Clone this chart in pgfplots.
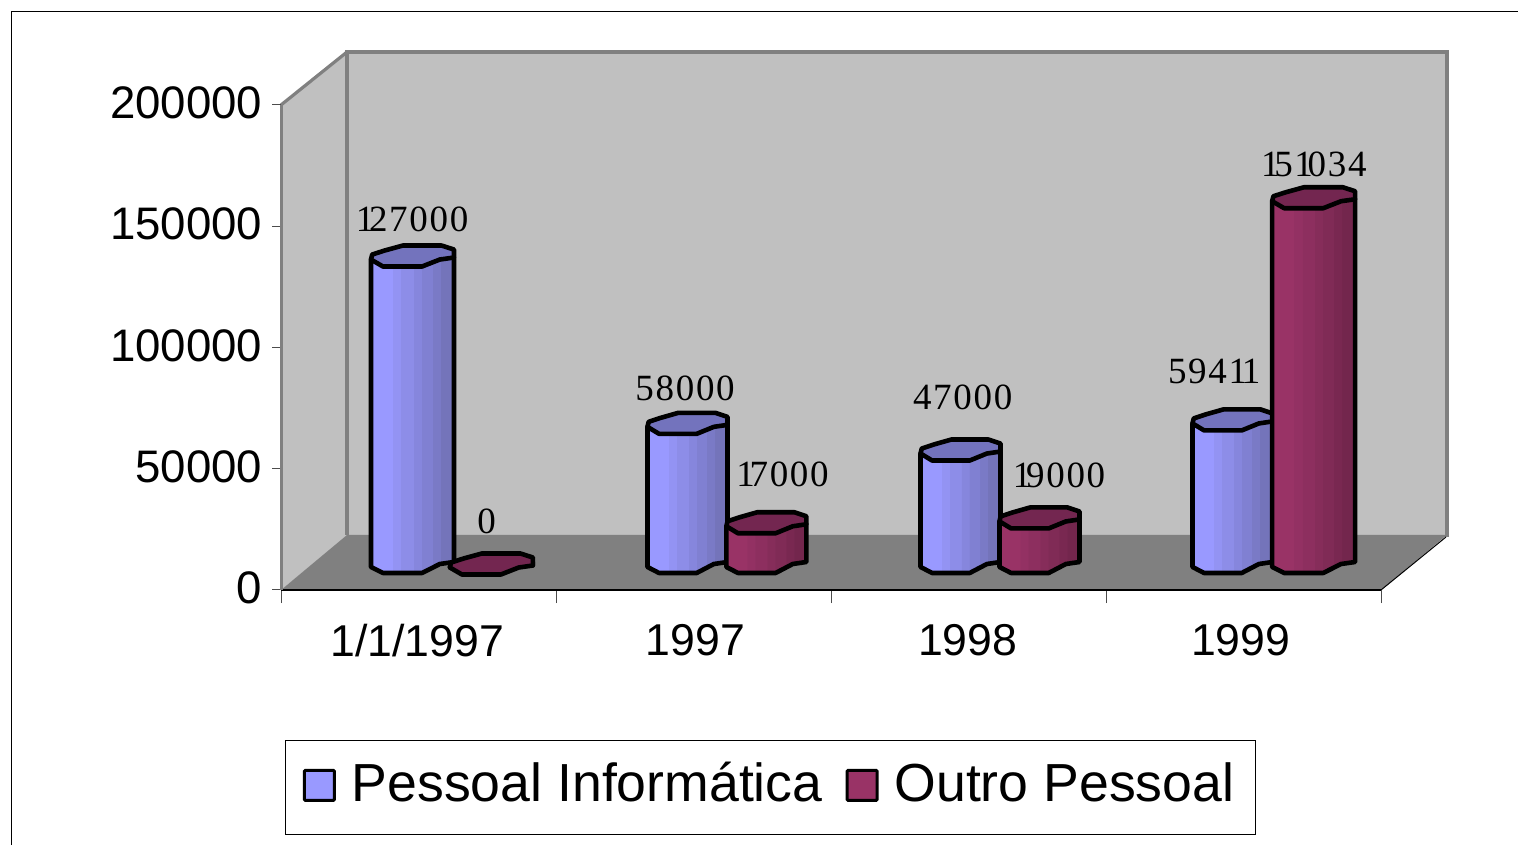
\documentclass[border=0pt]{standalone}
\usepackage{pgfplots}
\usepackage{fontspec}
\setmainfont{Liberation Sans}
\newfontfamily\labelfont{Liberation Serif}
\pgfplotsset{compat=1.18}
\definecolor{wall}{HTML}{C0C0C0}
\definecolor{floorc}{HTML}{808080}
\definecolor{blueC}{HTML}{7373BD}
\definecolor{redC}{HTML}{732650}
\definecolor{blueA}{HTML}{9999FF}\definecolor{blueB}{HTML}{9393F3}\definecolor{blueD}{HTML}{8D8DE8}
\definecolor{blueE}{HTML}{8686DD}\definecolor{blueF}{HTML}{8080D2}\definecolor{blueG}{HTML}{7A7AC6}\definecolor{blueH}{HTML}{7474BA}
\definecolor{redA}{HTML}{993366}\definecolor{redB}{HTML}{933163}\definecolor{redD}{HTML}{8D2F5F}
\definecolor{redE}{HTML}{862D5A}\definecolor{redF}{HTML}{802B56}\definecolor{redG}{HTML}{792851}\definecolor{redH}{HTML}{73264D}
\newcommand\bandshade[8]{%
  \pgfdeclarehorizontalshading{#1}{100bp}{%
    color(0bp)=(#2); color(38bp)=(#2); color(38.01bp)=(#3); color(43bp)=(#3);
    color(43.01bp)=(#4); color(50.5bp)=(#4); color(50.51bp)=(#5); color(55.5bp)=(#5);
    color(55.51bp)=(#6); color(62bp)=(#6); color(62.01bp)=(#7); color(67bp)=(#7);
    color(67.01bp)=(#8); color(100bp)=(#8)}}
\bandshade{blueband}{blueA}{blueB}{blueD}{blueE}{blueF}{blueG}{blueH}
\bandshade{redband}{redA}{redB}{redD}{redE}{redF}{redG}{redH}
% one cylinder, drawn from the data point; heights come from the plotted value
\newcommand\cylmark[3]{%
  \pgfdeclareplotmark{#1}{%
    \begin{scope}[x=0.5pt,y=-0.5pt,line width=2.3pt,line join=round,draw=black]
      \path[draw,shading=#2,shading angle=0]
        ({-\cylW},-22.5) -- ({-\cylW},{-23+\cylH}) -- ({-.71*\cylW},{-17+\cylH})
        -- ({.23*\cylW},{-17+\cylH}) -- ({.66*\cylW},{-26+\cylH}) -- ({\cylW},{-28+\cylH})
        -- ({\cylW},-24.5) -- cycle;
      \path[draw,fill=#3]
        ({-\cylW},-22.5) -- ({-.71*\cylW},-15.5) -- ({.23*\cylW},-15.5) -- ({.66*\cylW},-22.5)
        -- ({\cylW},-24.5) -- ({\cylW},-32.5) -- ({.70*\cylW},-36.5) -- ({-.23*\cylW},-36.5)
        -- ({-.67*\cylW},-31.5) -- ({-.97*\cylW},-27.5) -- cycle;
    \end{scope}%
  }%
}
\cylmark{cylblue}{blueband}{blueC}
\cylmark{cylred}{redband}{redC}
% the value labels: tracked digits, with each 1 drawn tight against the next digit
\def\trkloop#1{\ifx#1\relax\else #1\kern.85pt\if1#1\kern-3.5pt\fi\expandafter\trkloop\fi}
\newcommand\trk[1]{\expandafter\trkloop#1\relax}
\pgfplotsset{
  cyl/.style={
    scatter, only marks, mark=#1, clip=false,
    scatter src=y,
    scatter/@pre marker code/.code={\pgfscope},
    scatter/@post marker code/.code={\endpgfscope},
    visualization depends on={y/200000*485 \as \cylH},
    visualization depends on={value \thisrow{y} \as \rawval},
    visualization depends on={value \thisrow{w} \as \cylW},
    visualization depends on={value \thisrow{dx} \as \lblX},
    visualization depends on={value \thisrow{dy} \as \lblY},
    nodes near coords={\labelfont\trk{\rawval}},
    every node near coord/.append style={anchor=center,inner sep=0pt,black,
      font=\fontsize{18.5}{20}\selectfont,xshift=\lblX*0.5pt,yshift=\lblY*0.5pt},
  },
}
\begin{document}
\begin{tikzpicture}
\useasboundingbox (0,0) rectangle (759pt,422.5pt);
\begin{scope}[x=0.5pt,y=-0.5pt,yshift=422.5pt]
  \draw[line width=0.7pt,black] (11.5,845) -- (11.5,11.5) -- (1518,11.5);
  \fill[wall] (347,52) rectangle (1447,536);
  \fill[wall] (281,105) -- (347,52) -- (347,536) -- (281,590) -- cycle;
  \fill[floorc] (281,590) -- (347,535) -- (1447,535) -- (1381,590) -- cycle;
  \draw[floorc,line width=2pt] (347,535) -- (347,52) -- (1447,52) -- (1447,537);
  \draw[floorc,line width=1.6pt] (281,105) -- (347,52);
  \draw[black,line width=0.5pt] (1381,590) -- (1446,537);
\end{scope}
\begin{axis}[
  at={(140.5pt,127.5pt)}, anchor=origin,
  scale only axis, width=550pt, height=242.5pt,
  xmin=0, xmax=4, ymin=0, ymax=200000,
  axis x line*=bottom, axis y line*=left,
  x axis line style={-,black,line width=0.6pt},
  y axis line style={-,floorc,line width=1.5pt},
  tick align=outside,
  xtick={0.495,1.507,2.497,3.49},
  xticklabels={1/1/1997,1997,1998,1999},
  minor xtick={0,1,2,3,4},
  ytick={0,50000,100000,150000,200000},
  major x tick style={draw=none},
  tick style={line width=0.5pt,black!70},
  major tick length=4.5pt,
  minor tick length=6.5pt,
  scaled y ticks=false,
  /pgf/number format/fixed,
  /pgf/number format/1000 sep={},
  /pgf/number format/assume math mode=true,
  yticklabel style={font=\fontsize{22.8}{24}\selectfont,xshift=-1.3pt,yshift=1pt},
  xticklabel style={font=\fontsize{22.3}{24}\selectfont,yshift=-9pt},
  legend columns=2,
  legend style={at={(0.445,-0.407)},anchor=center,draw=black,line width=0.5pt,
    font=\fontsize{26.8}{30}\selectfont,inner xsep=8.5pt,inner ysep=9pt,
    /tikz/every odd column/.append style={column sep=6pt},
    /tikz/every even column/.append style={column sep=9.5pt}},
  legend cell align=left,
  clip=false,
]
\addplot[cyl=cylblue,
  legend image code/.code={\draw[black,line width=1.5pt,rounded corners=.5pt,fill=blueA] (0pt,-6.5pt) rectangle (15pt,8.5pt);}]
  table[x=x,y=y] {
x y w dx dy
0.478 127000 41.5 0.5 63
1.478 58000 40 -1.5 61
2.471 47000 40 3 79
3.460 59411 40 -21 74
};
\addlegendentry{\raisebox{4pt}{Pessoal Informática}}
\addplot[cyl=cylred,
  legend image code/.code={\draw[black,line width=1.5pt,rounded corners=.5pt,fill=redA] (0pt,-6.5pt) rectangle (15pt,8.5pt);}]
  table[x=x,y=y] {
x y w dx dy
0.765 0 41.5 -4 69
1.765 17000 40 17 74
2.758 19000 40 20.5 69
3.755 151034 41.5 1 59
};
\addlegendentry{\raisebox{4pt}{Outro Pessoal}}
\end{axis}
\end{tikzpicture}
\end{document}
